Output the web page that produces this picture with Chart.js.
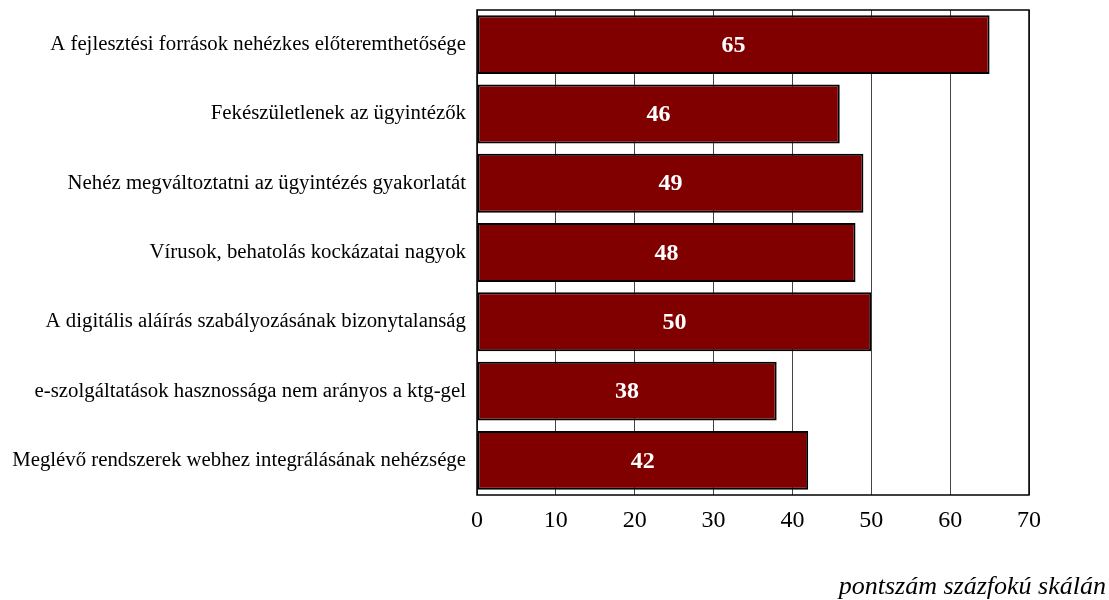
<!DOCTYPE html>
<html><head><meta charset="utf-8">
<script src="https://cdn.jsdelivr.net/npm/chart.js@4/dist/chart.umd.min.js"></script>
<style>html,body{margin:0;padding:0;background:#fff}#wrap{width:1109px;height:600px}</style>
</head><body><div id="wrap"><canvas id="c" width="1109" height="600"></canvas></div>
<script>
const categories = [
  "A fejlesztési források nehézkes előteremthetősége",
  "Fekészületlenek az ügyintézők",
  "Nehéz megváltoztatni az ügyintézés gyakorlatát",
  "Vírusok, behatolás kockázatai nagyok",
  "A digitális aláírás szabályozásának bizonytalanság",
  "e-szolgáltatások hasznossága nem arányos a ktg-gel",
  "Meglévő rendszerek webhez integrálásának nehézsége"
];
const values = [65, 46, 49, 48, 50, 38, 42];
const xTicks = [0, 10, 20, 30, 40, 50, 60, 70];
const axisTitle = "pontszám százfokú skálán";

const FONT = "'Liberation Serif','Times New Roman',serif";

const overlay = {
  id: 'overlay',
  afterDatasetsDraw(chart) {
    const ctx = chart.ctx;
    const meta = chart.getDatasetMeta(0);
    ctx.save();
    ctx.fillStyle = '#ffffff';
    ctx.font = "bold 24px " + FONT;
    ctx.textAlign = 'center';
    ctx.textBaseline = 'middle';
    meta.data.forEach((bar, i) => {
      const cx = (bar.x + bar.base) / 2;
      ctx.fillText(String(values[i]), cx, bar.y + 1);
    });
    const a = chart.chartArea;
    ctx.strokeStyle = '#000';
    ctx.lineWidth = 1.5;
    ctx.strokeRect(a.left, a.top, a.right - a.left, a.bottom - a.top);
    ctx.fillStyle = '#000';
    ctx.font = "italic 26px " + FONT;
    ctx.textAlign = 'right';
    ctx.textBaseline = 'alphabetic';
    ctx.fillText(axisTitle, 1106, 594);
    ctx.restore();
  }
};

new Chart(document.getElementById('c'), {
  type: 'bar',
  data: {
    labels: categories,
    datasets: [{
      data: values,
      backgroundColor: '#800000',
      borderColor: '#000000',
      borderWidth: 2,
      borderSkipped: false,
      categoryPercentage: 1,
      barPercentage: 0.85
    }]
  },
  options: {
    indexAxis: 'y',
    responsive: false,
    animation: false,
    devicePixelRatio: 1,
    layout: { padding: { top: 10, right: 80, left: 0, bottom: 0 } },
    plugins: { legend: { display: false }, tooltip: { enabled: false } },
    scales: {
      x: {
        min: 0, max: 70,
        afterBuildTicks(s) { s.ticks = xTicks.map(v => ({ value: v })); },
        afterFit(s) { s.height = 105; },
        grid: { color: '#444444', lineWidth: 1, drawTicks: false },
        border: { display: false },
        ticks: { color: '#000', font: { family: FONT, size: 24 }, padding: 11 }
      },
      y: {
        afterFit(s) { s.width = 477; s.paddingTop = 0; s.paddingBottom = 0; },
        grid: { display: false, drawTicks: false },
        border: { display: false },
        ticks: { color: '#000', font: { family: FONT, size: 20.8 }, padding: 11 }
      }
    }
  },
  plugins: [overlay]
});
</script></body></html>
